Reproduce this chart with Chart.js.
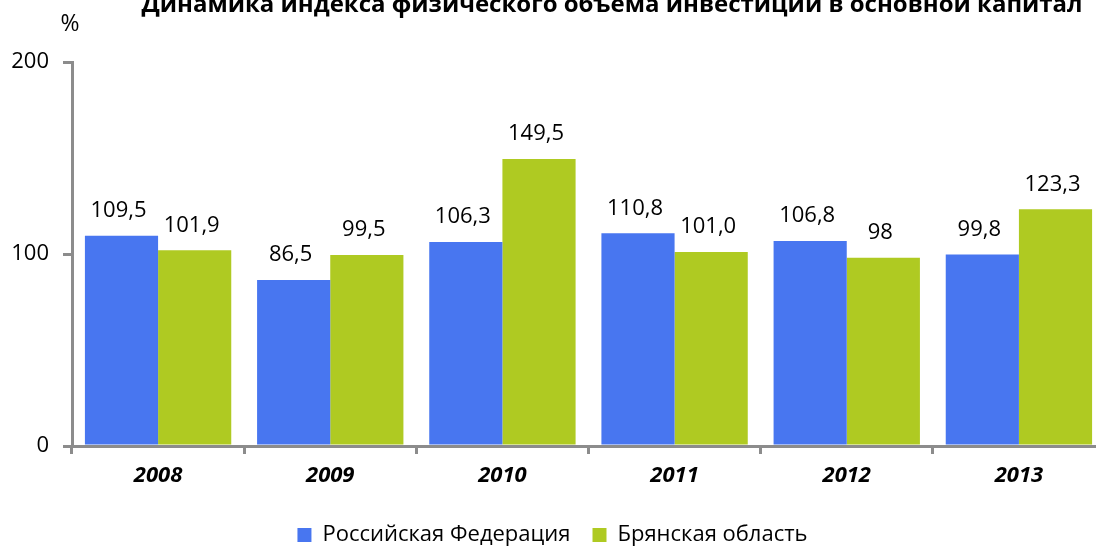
<!DOCTYPE html>
<html>
<head>
<meta charset="utf-8">
<script src="https://cdn.jsdelivr.net/npm/chart.js@4.4.1/dist/chart.umd.min.js"></script>
<style>
    html, body { margin: 0; padding: 0; background: #fff; overflow: hidden; }
    #wrap { position: relative; width: 1110px; height: 560px; }
</style>
</head>
<body>
<div id="wrap"><canvas id="chart"></canvas></div>
<script>
const years = ['2008', '2009', '2010', '2011', '2012', '2013'];
const russiaValues = [109.5, 86.5, 106.3, 110.8, 106.8, 99.8];
const bryanskValues = [101.9, 99.5, 149.5, 101.0, 98, 123.3];
const russiaLabels = ['109,5', '86,5', '106,3', '110,8', '106,8', '99,8'];
const bryanskLabels = ['101,9', '99,5', '149,5', '101,0', '98', '123,3'];
const yTicks = [0, 100, 200];

const titleText = 'Динамика индекса физического объема инвестиций в основной капитал';
const FONT = '"Open Sans", "Noto Sans", sans-serif';

// title, "%" unit and value labels drawn on the canvas
const extraText = {
    id: 'extraText',
    afterDatasetsDraw(chart) {
        const ctx = chart.ctx;
        ctx.save();
        ctx.fillStyle = '#000';
        ctx.textAlign = 'center';
        ctx.textBaseline = 'alphabetic';
        ctx.font = 'bold 24px ' + FONT;
        ctx.fillText(titleText, 612, 12);
        ctx.font = '23px ' + FONT;
        ctx.fillText('%', 70, 31);

        ctx.font = '22px ' + FONT;
        ctx.textBaseline = 'bottom';
        const labelSets = [russiaLabels, bryanskLabels];
        chart.data.datasets.forEach((ds, di) => {
            chart.getDatasetMeta(di).data.forEach((bar, i) => {
                ctx.fillText(labelSets[di][i], bar.x - 3, bar.y - 14);
            });
        });
        ctx.restore();
    }
};

new Chart(document.getElementById('chart'), {
    type: 'bar',
    data: {
        labels: years,
        datasets: [
            { label: 'Российская Федерация', data: russiaValues, backgroundColor: '#4876F0', borderWidth: 0 },
            { label: 'Брянская область', data: bryanskValues, backgroundColor: '#AFCA22', borderWidth: 0 }
        ]
    },
    options: {
        responsive: true,
        maintainAspectRatio: false,
        animation: false,
        layout: { padding: { top: 62, right: 5, left: 0, bottom: 4 } },
        plugins: {
            tooltip: { enabled: false },
            legend: {
                position: 'bottom',
                labels: {
                    boxWidth: 14, boxHeight: 14, padding: 22,
                    color: '#000',
                    font: { family: FONT, size: 22 }
                }
            }
        },
        datasets: { bar: { categoryPercentage: 0.85, barPercentage: 1 } },
        scales: {
            x: {
                grid: { display: true, drawOnChartArea: false, offset: true, color: '#8c8c8c', lineWidth: 3, tickLength: 8, tickWidth: 3 },
                border: { display: true, color: '#8c8c8c', width: 3 },
                ticks: { color: '#000', padding: 9, font: { family: FONT, size: 22, style: 'italic', weight: 'bold' } },
                afterFit(scale) { scale.height = 56; }
            },
            y: {
                min: 0, max: 200,
                afterBuildTicks(scale) { scale.ticks = yTicks.map(v => ({ value: v })); },
                grid: { display: true, drawOnChartArea: false, color: '#8c8c8c', lineWidth: 3, tickLength: 9, tickWidth: 3 },
                border: { display: true, color: '#8c8c8c', width: 3 },
                ticks: { color: '#000', padding: 14, font: { family: FONT, size: 22 } },
                afterFit(scale) { scale.width = 72; }
            }
        }
    },
    plugins: [extraText]
});
</script>
</body>
</html>
